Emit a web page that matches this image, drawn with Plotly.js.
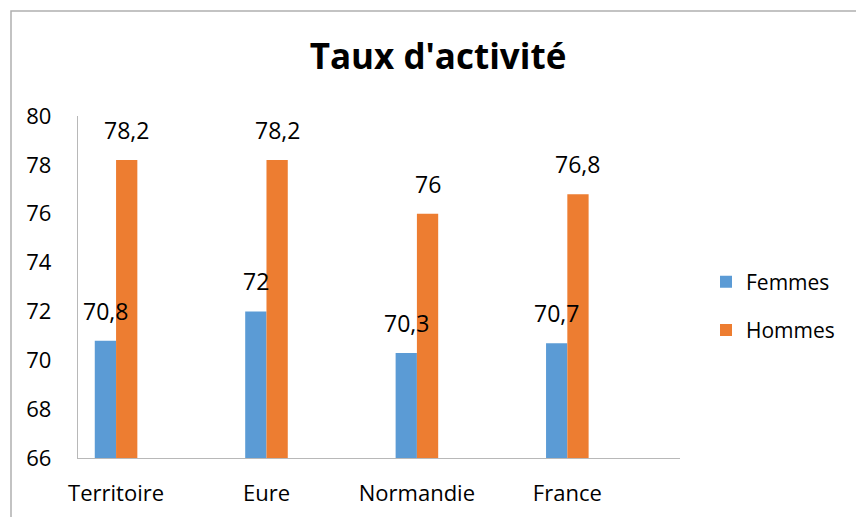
<!DOCTYPE html>
<html>
<head>
<meta charset="utf-8">
<script src="https://cdn.plot.ly/plotly-3.0.1.min.js"></script>
<style>
  html, body { margin: 0; padding: 0; background: #fff; }
  #chart { width: 856px; height: 517px; }
</style>
</head>
<body>
<div id="chart"></div>
<script>
// ---- Data ----
const categories = ['Territoire', 'Eure', 'Normandie', 'France'];
const femmes = [70.8, 72, 70.3, 70.7];
const hommes = [78.2, 78.2, 76, 76.8];
const seriesNames = ['Femmes', 'Hommes'];
const yTickVals = [66, 68, 70, 72, 74, 76, 78, 80];

// ---- Layout constants ----
const W = 856, H = 517;
const L = 78, R = 176, T = 116, B = 59;
const pw = W - L - R, ph = H - T - B;
const groupWidth = 0.283;
const barW = groupWidth / 2;
const xPos = categories.map((c, i) => i);
const fam = '"Open Sans", "Noto Sans", sans-serif';

function fmt(v) { return String(v).replace('.', ','); }

const traces = [
  { type: 'bar', name: seriesNames[0], x: xPos, y: femmes,
    marker: { color: '#5B9BD5', line: { width: 0 } }, legendgroup: 'f', hoverinfo: 'none' },
  { type: 'bar', name: seriesNames[1], x: xPos, y: hommes,
    marker: { color: '#ED7D31', line: { width: 0 } }, legendgroup: 'h', hoverinfo: 'none' }
];

const annotations = [];
[femmes, hommes].forEach((arr, s) => {
  arr.forEach((v, i) => {
    annotations.push({
      x: xPos[i] + (s === 0 ? -barW / 2 : barW / 2), y: v,
      xref: 'x', yref: 'y', text: fmt(v), showarrow: false,
      xanchor: 'center', yanchor: 'bottom', yshift: 12,
      font: { family: fam, size: 23, color: '#000' }
    });
  });
});

const gx = x => (x - L) / pw;
const gy = y => (H - B - y) / ph;

const layout = {
  width: W, height: H,
  margin: { l: L, r: R, t: T, b: B, pad: 0 },
  paper_bgcolor: '#fff', plot_bgcolor: '#fff',
  title: {
    text: "Taux d'activité",
    font: { family: fam, size: 35, color: '#000', weight: 'bold' },
    xref: 'paper', x: gx(438), xanchor: 'center',
    yref: 'container', y: 1 - 57 / H, yanchor: 'middle'
  },
  barmode: 'group', bargap: 1 - groupWidth, bargroupgap: 0,
  xaxis: {
    range: [-0.253, 3.749], tickvals: xPos, ticktext: categories,
    showline: true, linecolor: '#b8b8b8', linewidth: 1.3,
    showgrid: false, zeroline: false, ticks: '',
    ticklabelstandoff: 15,
    tickfont: { family: fam, size: 22, color: '#000' }, fixedrange: true
  },
  yaxis: {
    range: [66, 80], tickvals: yTickVals, ticktext: yTickVals.map(String),
    showline: true, linecolor: '#b8b8b8', linewidth: 1.3,
    showgrid: false, zeroline: false, ticks: '',
    ticklabelstandoff: 21,
    tickfont: { family: fam, size: 22, color: '#000' }, fixedrange: true
  },
  legend: {
    x: gx(706), xanchor: 'left', y: gy(306), yanchor: 'middle',
    font: { family: fam, size: 21, color: '#000' },
    tracegroupgap: 18, bgcolor: 'rgba(0,0,0,0)'
  },
  showlegend: true,
  annotations: annotations,
  shapes: [{
    type: 'path', xref: 'paper', yref: 'paper',
    path: `M ${gx(11)} ${gy(540)} L ${gx(11)} ${gy(11)} L ${gx(870)} ${gy(11)}`,
    line: { color: '#b0b0b0', width: 1.5 }
  }]
};

Plotly.newPlot('chart', traces, layout, { displayModeBar: false, staticPlot: true });
</script>
</body>
</html>
